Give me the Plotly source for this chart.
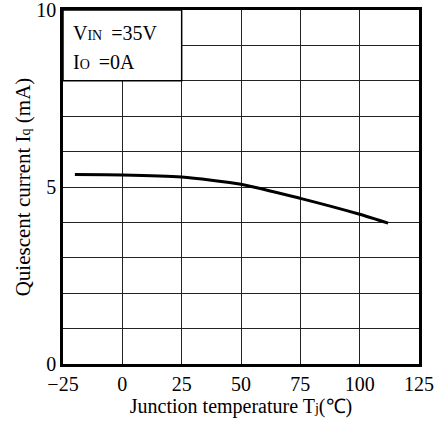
import plotly.graph_objects as go

temp_c = [-20, 0, 25, 50, 75, 100, 112]
iq_ma = [5.35, 5.34, 5.28, 5.08, 4.68, 4.23, 3.98]
x_ticks = [-25, 0, 25, 50, 75, 100, 125]
x_tick_labels = ["\u221225", "0", "25", "50", "75", "100", "125"]

FONT = "Liberation Serif, Times New Roman, serif"

fig = go.Figure()
fig.add_trace(go.Scatter(x=temp_c, y=iq_ma, mode="lines",
                         line=dict(color="black", width=3, shape="spline", smoothing=0.6),
                         showlegend=False, hoverinfo="skip"))

# textbox (white box with border)
fig.add_shape(type="rect", xref="x", yref="y", x0=-25, x1=25, y0=8, y1=10,
              line=dict(color="black", width=1.5), fillcolor="white", layer="above")
fig.add_annotation(xref="x", yref="y", x=-21.5, y=9.35, xanchor="left", yanchor="middle",
                   text="V<span style='font-size:14px'>IN</span> \u2009=35V", showarrow=False,
                   font=dict(family=FONT, size=20, color="black"))
fig.add_annotation(xref="x", yref="y", x=-21.5, y=8.53, xanchor="left", yanchor="middle",
                   text="I<span style='font-size:14px'>O</span> \u2009=0A", showarrow=False,
                   font=dict(family=FONT, size=20, color="black"))

fig.update_layout(
    width=445, height=431,
    margin=dict(l=63, r=26, t=10, b=67),
    paper_bgcolor="white", plot_bgcolor="white",
    font=dict(family=FONT, size=20, color="black"),
    xaxis=dict(range=[-25, 125], tickvals=x_ticks, ticktext=x_tick_labels,
               showgrid=True, gridcolor="#222", gridwidth=1,
               showline=True, linecolor="black", linewidth=2.5, mirror=True,
               ticks="", zeroline=False, automargin=False,
               ticklabeloverflow="allow",
               tickfont=dict(family=FONT, size=20),
               title=dict(text="Junction temperature T<span style='font-size:14px'>j</span>(\u2103)",
                          font=dict(family=FONT, size=20), standoff=6)),
    yaxis=dict(range=[0, 10], tickvals=list(range(0, 11)),
               ticktext=["0", "", "", "", "", "5", "", "", "", "", "10"],
               showgrid=True, gridcolor="#222", gridwidth=1,
               showline=True, linecolor="black", linewidth=2.5, mirror=True,
               ticks="", zeroline=False, automargin=False,
               ticklabeloverflow="allow",
               tickfont=dict(family=FONT, size=20),
               title=dict(text="Quiescent current I<span style='font-size:14px'>q</span> (mA)",
                          font=dict(family=FONT, size=21), standoff=0)),
)

fig.write_html("out.html")
